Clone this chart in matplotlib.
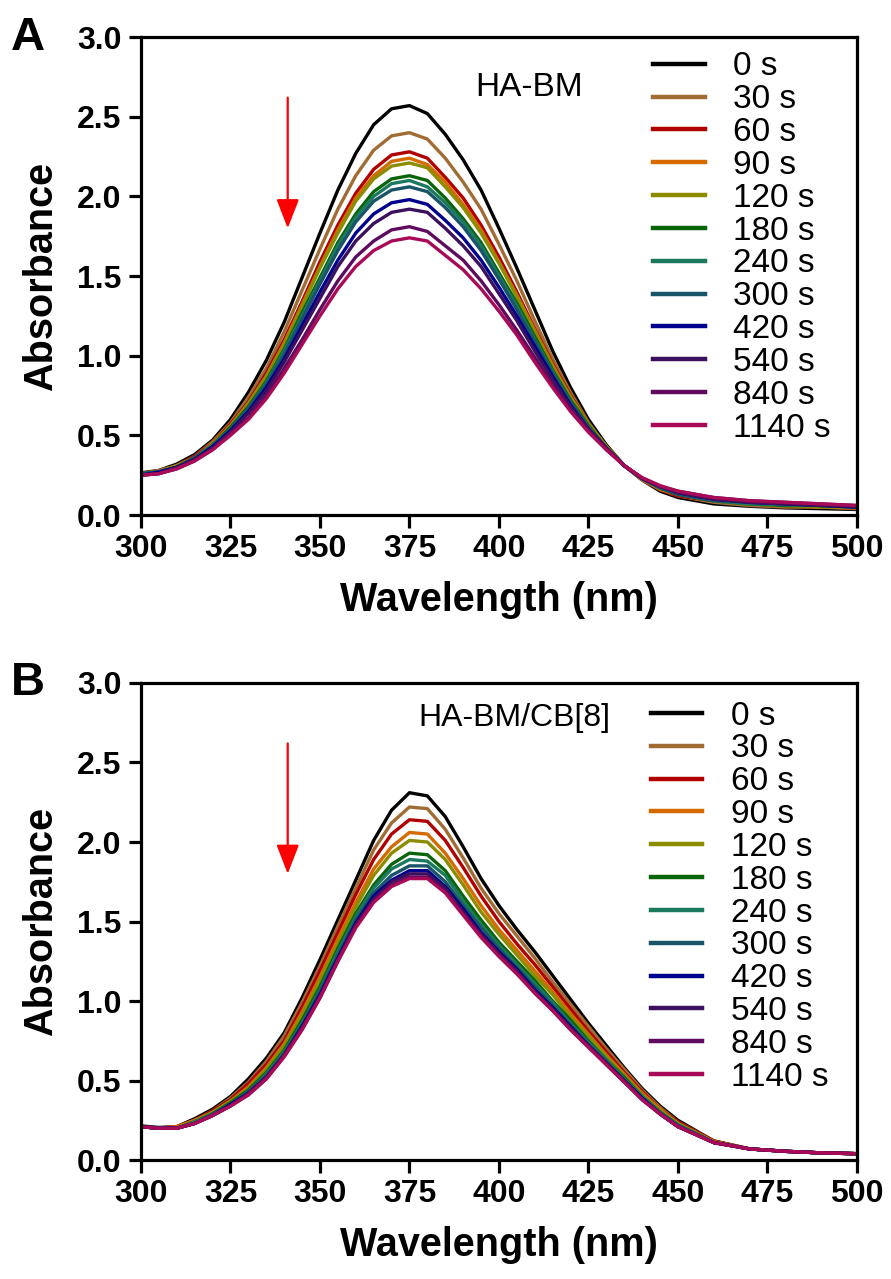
import matplotlib
matplotlib.use("Agg")
import matplotlib.pyplot as plt

plt.rcParams['font.family'] = ['Liberation Sans', 'DejaVu Sans']

# wavelength grid (nm)
wl = [300, 305, 310, 315, 320, 325, 330, 335, 340, 345, 350, 355, 360, 365, 370, 375,
      380, 385, 390, 395, 400, 405, 410, 415, 420, 425, 430, 435, 440, 445, 450,
      460, 470, 480, 490, 500]

labels = ["0 s", "30 s", "60 s", "90 s", "120 s", "180 s", "240 s", "300 s",
          "420 s", "540 s", "840 s", "1140 s"]
colors = ["#000000", "#a06c34", "#b00000", "#d46a00", "#8c8c00", "#0a640a",
          "#1b7a5e", "#1a5468", "#00008c", "#3c105e", "#5e0a5e", "#a80a58"]

# panel A: HA-BM
A_0 = [0.265, 0.28, 0.32, 0.38, 0.47, 0.60, 0.77, 0.97, 1.21, 1.49, 1.77, 2.04, 2.27, 2.45, 2.55, 2.57,
       2.52, 2.39, 2.23, 2.04, 1.80, 1.55, 1.29, 1.03, 0.80, 0.60, 0.44, 0.31, 0.22, 0.15, 0.11,
       0.07, 0.055, 0.045, 0.04, 0.035]
A_30 = [0.26, 0.28, 0.31, 0.37, 0.46, 0.58, 0.74, 0.92, 1.15, 1.41, 1.67, 1.92, 2.13, 2.29, 2.38, 2.40,
        2.36, 2.24, 2.09, 1.92, 1.70, 1.47, 1.22, 0.98, 0.77, 0.58, 0.43, 0.31, 0.22, 0.16, 0.12,
        0.08, 0.06, 0.05, 0.05, 0.04]
A_60 = [0.26, 0.27, 0.31, 0.37, 0.45, 0.57, 0.71, 0.89, 1.10, 1.34, 1.59, 1.82, 2.02, 2.17, 2.26, 2.28,
        2.24, 2.12, 1.99, 1.82, 1.62, 1.40, 1.17, 0.95, 0.75, 0.57, 0.43, 0.31, 0.23, 0.16, 0.12,
        0.09, 0.07, 0.06, 0.05, 0.045]
A_90 = [0.26, 0.27, 0.31, 0.36, 0.45, 0.56, 0.70, 0.87, 1.08, 1.32, 1.56, 1.79, 1.99, 2.13, 2.22, 2.24,
        2.20, 2.09, 1.95, 1.79, 1.59, 1.38, 1.16, 0.94, 0.74, 0.57, 0.43, 0.31, 0.23, 0.16, 0.13,
        0.09, 0.07, 0.06, 0.05, 0.045]
A_120 = [0.26, 0.27, 0.31, 0.36, 0.44, 0.56, 0.70, 0.87, 1.07, 1.31, 1.55, 1.77, 1.97, 2.11, 2.19, 2.21,
         2.18, 2.06, 1.93, 1.77, 1.58, 1.37, 1.15, 0.93, 0.74, 0.57, 0.43, 0.31, 0.23, 0.17, 0.13,
         0.09, 0.07, 0.06, 0.05, 0.05]
A_180 = [0.26, 0.27, 0.30, 0.36, 0.44, 0.55, 0.68, 0.84, 1.04, 1.27, 1.49, 1.71, 1.89, 2.03, 2.11, 2.13,
         2.10, 1.99, 1.86, 1.71, 1.52, 1.33, 1.12, 0.91, 0.72, 0.56, 0.42, 0.31, 0.23, 0.17, 0.13,
         0.09, 0.07, 0.06, 0.06, 0.05]
A_240 = [0.26, 0.27, 0.30, 0.36, 0.44, 0.54, 0.67, 0.83, 1.03, 1.25, 1.47, 1.69, 1.87, 2.00, 2.08, 2.10,
         2.06, 1.96, 1.84, 1.69, 1.50, 1.31, 1.10, 0.90, 0.71, 0.55, 0.42, 0.31, 0.23, 0.17, 0.13,
         0.09, 0.07, 0.065, 0.06, 0.05]
A_300 = [0.26, 0.27, 0.30, 0.36, 0.43, 0.54, 0.67, 0.82, 1.01, 1.23, 1.45, 1.66, 1.84, 1.97, 2.04, 2.06,
         2.03, 1.93, 1.81, 1.66, 1.48, 1.29, 1.09, 0.89, 0.71, 0.55, 0.42, 0.31, 0.23, 0.17, 0.13,
         0.09, 0.08, 0.07, 0.06, 0.05]
A_420 = [0.25, 0.27, 0.30, 0.35, 0.43, 0.53, 0.65, 0.80, 0.98, 1.19, 1.40, 1.60, 1.77, 1.89, 1.96, 1.98,
         1.95, 1.85, 1.74, 1.60, 1.43, 1.25, 1.06, 0.87, 0.69, 0.54, 0.42, 0.31, 0.23, 0.18, 0.14,
         0.10, 0.08, 0.07, 0.06, 0.05]
A_540 = [0.25, 0.26, 0.30, 0.35, 0.42, 0.52, 0.64, 0.78, 0.96, 1.16, 1.36, 1.56, 1.72, 1.83, 1.90, 1.92,
         1.90, 1.80, 1.69, 1.56, 1.39, 1.22, 1.03, 0.85, 0.68, 0.54, 0.42, 0.31, 0.23, 0.18, 0.14,
         0.10, 0.08, 0.07, 0.06, 0.055]
A_840 = [0.25, 0.26, 0.29, 0.34, 0.41, 0.51, 0.61, 0.75, 0.92, 1.10, 1.29, 1.47, 1.62, 1.72, 1.79, 1.81,
         1.78, 1.69, 1.60, 1.47, 1.32, 1.16, 0.99, 0.82, 0.66, 0.53, 0.41, 0.31, 0.23, 0.18, 0.15,
         0.11, 0.09, 0.08, 0.07, 0.06]
A_1140 = [0.25, 0.26, 0.29, 0.34, 0.41, 0.50, 0.60, 0.73, 0.89, 1.07, 1.25, 1.42, 1.56, 1.66, 1.72, 1.74,
          1.72, 1.63, 1.54, 1.42, 1.28, 1.13, 0.96, 0.80, 0.65, 0.52, 0.41, 0.31, 0.235, 0.185, 0.15,
          0.11, 0.09, 0.08, 0.07, 0.06]

# panel B: HA-BM/CB[8]
B_0 = [0.215, 0.205, 0.21, 0.26, 0.32, 0.40, 0.51, 0.64, 0.80, 1.02, 1.26, 1.51, 1.76, 2.01, 2.20, 2.31,
       2.29, 2.16, 1.97, 1.77, 1.60, 1.45, 1.31, 1.16, 1.01, 0.86, 0.72, 0.58, 0.45, 0.34, 0.25,
       0.12, 0.07, 0.055, 0.045, 0.04]
B_30 = [0.21, 0.20, 0.21, 0.25, 0.31, 0.39, 0.49, 0.62, 0.78, 0.99, 1.22, 1.47, 1.71, 1.95, 2.12, 2.22,
        2.21, 2.08, 1.90, 1.71, 1.55, 1.41, 1.27, 1.12, 0.98, 0.84, 0.70, 0.57, 0.44, 0.33, 0.24,
        0.12, 0.07, 0.055, 0.045, 0.04]
B_60 = [0.21, 0.20, 0.21, 0.25, 0.31, 0.38, 0.48, 0.60, 0.75, 0.96, 1.19, 1.43, 1.67, 1.89, 2.05, 2.14,
        2.13, 2.01, 1.84, 1.66, 1.50, 1.36, 1.23, 1.09, 0.95, 0.81, 0.68, 0.55, 0.43, 0.32, 0.24,
        0.12, 0.07, 0.055, 0.045, 0.04]
B_90 = [0.21, 0.20, 0.21, 0.25, 0.30, 0.37, 0.46, 0.58, 0.73, 0.93, 1.15, 1.39, 1.62, 1.83, 1.97, 2.06,
        2.05, 1.93, 1.77, 1.60, 1.45, 1.32, 1.19, 1.06, 0.92, 0.79, 0.66, 0.54, 0.42, 0.32, 0.23,
        0.115, 0.07, 0.055, 0.045, 0.04]
B_120 = [0.21, 0.20, 0.20, 0.24, 0.30, 0.37, 0.45, 0.57, 0.72, 0.91, 1.13, 1.36, 1.59, 1.79, 1.93, 2.01,
         2.00, 1.89, 1.73, 1.56, 1.42, 1.29, 1.16, 1.04, 0.90, 0.78, 0.65, 0.53, 0.41, 0.31, 0.23,
         0.115, 0.07, 0.055, 0.045, 0.04]
B_180 = [0.21, 0.20, 0.20, 0.24, 0.29, 0.36, 0.44, 0.55, 0.69, 0.88, 1.09, 1.33, 1.55, 1.73, 1.86, 1.93,
         1.92, 1.82, 1.66, 1.51, 1.37, 1.25, 1.13, 1.00, 0.88, 0.75, 0.63, 0.52, 0.40, 0.30, 0.22,
         0.11, 0.07, 0.055, 0.045, 0.04]
B_240 = [0.21, 0.20, 0.20, 0.24, 0.29, 0.35, 0.43, 0.54, 0.68, 0.86, 1.07, 1.31, 1.53, 1.71, 1.83, 1.89,
         1.88, 1.79, 1.63, 1.48, 1.35, 1.23, 1.11, 0.99, 0.86, 0.74, 0.63, 0.51, 0.40, 0.30, 0.22,
         0.11, 0.07, 0.055, 0.045, 0.04]
B_300 = [0.21, 0.20, 0.20, 0.23, 0.29, 0.35, 0.43, 0.53, 0.67, 0.85, 1.06, 1.29, 1.51, 1.68, 1.79, 1.85,
         1.85, 1.75, 1.60, 1.46, 1.33, 1.21, 1.09, 0.97, 0.85, 0.73, 0.62, 0.50, 0.39, 0.30, 0.22,
         0.11, 0.07, 0.055, 0.045, 0.04]
B_420 = [0.21, 0.20, 0.20, 0.23, 0.28, 0.35, 0.42, 0.52, 0.66, 0.84, 1.04, 1.27, 1.49, 1.66, 1.76, 1.82,
         1.82, 1.72, 1.58, 1.43, 1.31, 1.20, 1.07, 0.96, 0.84, 0.72, 0.61, 0.50, 0.39, 0.29, 0.21,
         0.11, 0.07, 0.055, 0.045, 0.04]
B_540 = [0.21, 0.20, 0.20, 0.23, 0.28, 0.34, 0.42, 0.52, 0.66, 0.83, 1.03, 1.26, 1.48, 1.64, 1.75, 1.80,
         1.80, 1.71, 1.56, 1.42, 1.30, 1.19, 1.06, 0.95, 0.83, 0.72, 0.61, 0.50, 0.38, 0.29, 0.21,
         0.11, 0.07, 0.055, 0.045, 0.04]
B_840 = [0.21, 0.20, 0.20, 0.23, 0.28, 0.34, 0.41, 0.51, 0.65, 0.82, 1.02, 1.25, 1.47, 1.63, 1.73, 1.78,
         1.78, 1.69, 1.55, 1.41, 1.29, 1.18, 1.05, 0.94, 0.82, 0.71, 0.60, 0.49, 0.38, 0.29, 0.21,
         0.11, 0.07, 0.055, 0.045, 0.04]
B_1140 = [0.21, 0.20, 0.20, 0.23, 0.28, 0.34, 0.41, 0.51, 0.65, 0.82, 1.02, 1.25, 1.46, 1.62, 1.72, 1.77,
          1.77, 1.68, 1.54, 1.40, 1.28, 1.17, 1.05, 0.94, 0.82, 0.71, 0.60, 0.49, 0.38, 0.29, 0.21,
          0.11, 0.07, 0.055, 0.045, 0.04]

series_A = [A_0, A_30, A_60, A_90, A_120, A_180, A_240, A_300, A_420, A_540, A_840, A_1140]
series_B = [B_0, B_30, B_60, B_90, B_120, B_180, B_240, B_300, B_420, B_540, B_840, B_1140]

fig = plt.figure(figsize=(8.91, 12.79), dpi=100)
axA = fig.add_axes([0.1582, 0.5973, 0.8036, 0.3737])
axB = fig.add_axes([0.1582, 0.0930, 0.8036, 0.3730])


def draw_panel(ax, series, tag, name, name_size, leg_xy):
    for ys, lab, c in zip(series, labels, colors):
        ax.plot(wl, ys, color=c, lw=2.4, label=lab, solid_joinstyle='round')
    ax.set_xlim(300, 500)
    ax.set_ylim(0, 3.0)
    ax.set_xticks([300, 325, 350, 375, 400, 425, 450, 475, 500])
    ax.set_yticks([0.0, 0.5, 1.0, 1.5, 2.0, 2.5, 3.0])
    ax.set_yticklabels([f"{v:.1f}" for v in ax.get_yticks()])
    for s in ax.spines.values():
        s.set_linewidth(2.3)
    ax.tick_params(direction='out', length=9, width=2.3, labelsize=23, pad=5)
    for t in ax.get_xticklabels() + ax.get_yticklabels():
        t.set_fontweight('bold')
    ax.set_xlabel("Wavelength (nm)", fontsize=28.5, fontweight='bold', labelpad=12)
    ax.set_ylabel("Absorbance", fontsize=28.5, fontweight='bold', labelpad=12)
    # red arrow showing decrease over time
    ax.annotate('', xy=(341, 1.80), xytext=(341, 2.62),
                arrowprops=dict(arrowstyle='-|>,head_length=0.9,head_width=0.35',
                                color='red', lw=1.6, mutation_scale=20,
                                shrinkA=0, shrinkB=0))
    ax.text(tag[0], tag[1], name, transform=ax.transAxes, fontsize=name_size,
            ha='center', va='center')
    leg = ax.legend(loc='upper left', bbox_to_anchor=leg_xy, frameon=False,
                    fontsize=24, handlelength=1.55, handletextpad=0.85,
                    labelspacing=0.055, borderpad=0, borderaxespad=0)
    for line in leg.get_lines():
        line.set_linewidth(3.2)


draw_panel(axA, series_A, (0.542, 0.895), "HA-BM", 24, (0.715, 0.970))
draw_panel(axB, series_B, (0.522, 0.927), "HA-BM/CB[8]", 23, (0.712, 0.963))

fig.text(0.031, 0.970, "A", fontsize=34, fontweight='bold', ha='center', va='center')
fig.text(0.031, 0.466, "B", fontsize=34, fontweight='bold', ha='center', va='center')

fig.savefig("out.png", dpi=100)
